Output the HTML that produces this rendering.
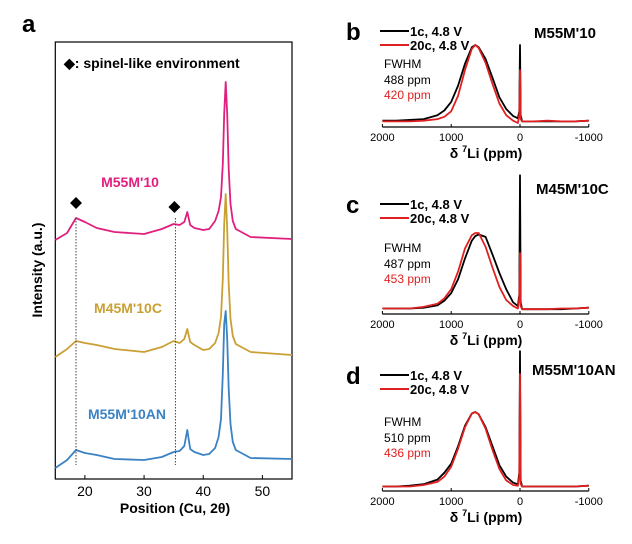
<!DOCTYPE html>
<html><head><meta charset="utf-8"><style>
body{margin:0;background:#fff;width:632px;height:539px;overflow:hidden}
svg{font-family:"Liberation Sans",Arial,sans-serif}
</style></head><body>
<svg id="fig" width="632" height="539" viewBox="0 0 632 539">
<g>
<text x="22" y="32" font-size="24" font-weight="bold">a</text>
<rect x="55.3" y="42" width="236.7" height="437" fill="none" stroke="#000" stroke-width="1.2"/>
<text x="64" y="68" font-size="14" font-weight="bold">◆: spinel-like environment</text>
<text transform="translate(42,270) rotate(-90)" text-anchor="middle" font-size="14" font-weight="bold">Intensity (a.u.)</text>
<text x="175" y="513" text-anchor="middle" font-size="14" font-weight="bold">Position (Cu, 2θ)</text>
<text x="130" y="187" text-anchor="middle" font-size="14" font-weight="bold" fill="#e0207e">M55M'10</text>
<text x="128" y="313" text-anchor="middle" font-size="14" font-weight="bold" fill="#c9a033">M45M'10C</text>
<text x="127" y="419" text-anchor="middle" font-size="14" font-weight="bold" fill="#3a82c4">M55M'10AN</text>
<g id="xrd"></g>
</g>
<g id="nmr"></g>
</svg>
<script>
// XRD data (2θ degrees; intensity a.u. above plot bottom)
const xrdAngles=[15,17,18.5,20,22,25,30,33,35,36,36.8,37.3,37.8,38.5,40,41,42,42.6,43,43.3,43.55,43.8,44.05,44.3,44.6,45,45.5,48,55];
const xrdPink=[239,246,261,257,251,247,245,250,255,254,257,267,254,251,249,250,258,268,282,315,365,397,365,310,275,258,250,242,240];
const xrdGold=[122,130,138,136,134,130,127,132,138,136,140,150,137,134,129,130,136,146,162,200,255,285,250,195,160,143,135,127,124];
const xrdBlue=[11,19,29,26,24,20,19,22,27,28,33,49,30,27,24,25,31,42,60,105,155,168,140,90,55,37,29,21,20];
const xTicks=[20,30,40,50];
const spinelPositions=[18.5,35.3];
const X0=15,X1=55,PL=55.3,PR=292,PB=479;
function xs(d){return PL+(d-X0)/(X1-X0)*(PR-PL);}
function ys(v){return PB-v;}
const NS='http://www.w3.org/2000/svg';
function mk(tag,attrs,parent){const e=document.createElementNS(NS,tag);for(const k in attrs)e.setAttribute(k,attrs[k]);parent.appendChild(e);return e;}
const xrd=document.getElementById('xrd');
[[xrdPink,'#e0207e','xrd-line-m55m10'],[xrdGold,'#c9a033','xrd-line-m45m10c'],[xrdBlue,'#3a82c4','xrd-line-m55m10an']].forEach(s=>{
  const d=xrdAngles.map((a,i)=>(i?'L':'M')+xs(a).toFixed(1)+','+ys(s[0][i]).toFixed(1)).join('');
  const p=mk('path',{d:d,fill:'none',stroke:s[1],'stroke-width':1.8,'stroke-linejoin':'round'},xrd);
  
  
});
spinelPositions.forEach((a,i)=>{
  const l=mk('line',{x1:xs(a),x2:xs(a),y1:218,y2:465,stroke:'#444','stroke-width':1,'stroke-dasharray':'1.5,1.5'},xrd);
  
  
  const y=i?207:203,x=xs(a)-(i?1:0);
  const dm=mk('path',{d:`M${x},${y-6}L${x+6},${y}L${x},${y+6}L${x-6},${y}Z`,fill:'#000'},xrd);
  
  
});
xTicks.forEach(t=>{
  const l=mk('line',{x1:xs(t),x2:xs(t),y1:PB,y2:PB-4,stroke:'#000'},xrd);
  
  
  const tx=mk('text',{x:xs(t),y:PB+17,'text-anchor':'middle','font-size':14},xrd);
  tx.textContent=t;
  
  
});
// NMR data (ppm; relative intensity)
const nmrPpm=[2000,1800,1600,1400,1200,1100,1000,900,800,700,650,600,500,400,300,200,100,30,10,0,-10,-30,-200,-400,-600,-800,-1000];
const bBlack=[0.03,0.03,0.04,0.05,0.1,0.16,0.27,0.48,0.76,0.97,1,0.97,0.82,0.58,0.33,0.18,0.09,0.06,0.15,1.0,0.1,0.02,0.02,0.02,0.02,0.02,0.03];
const bRed=[0.02,0.02,0.02,0.03,0.05,0.08,0.15,0.35,0.68,0.95,1,0.96,0.77,0.5,0.25,0.1,0.03,0.0,0.1,0.68,0.05,0.02,0.02,0.03,0.02,0.02,0.03];
const cBlack=[0.02,0.02,0.02,0.03,0.06,0.12,0.22,0.4,0.67,0.9,0.96,0.98,0.95,0.72,0.48,0.27,0.1,0.05,0.2,1.75,0.1,0.01,0.01,0.01,0.01,0.02,0.03];
const cRed=[0.02,0.02,0.02,0.04,0.08,0.15,0.27,0.5,0.8,0.97,1.0,1.0,0.82,0.55,0.3,0.13,0.05,0.02,0.15,0.74,0.05,0.01,0.01,0.01,0.02,0.02,0.03];
const dBlack=[0.02,0.02,0.03,0.05,0.11,0.2,0.32,0.55,0.82,0.98,1,0.97,0.8,0.55,0.3,0.15,0.07,0.05,0.2,1.8,0.1,0.02,0.02,0.02,0.02,0.02,0.03];
const dRed=[0.02,0.02,0.02,0.04,0.08,0.15,0.28,0.52,0.8,0.98,1,0.97,0.78,0.5,0.25,0.1,0.04,0.03,0.15,1.5,0.05,0.02,0.02,0.02,0.02,0.02,0.03];
const nmrTicks=[2000,1000,0,-1000];
const panels=[
 {id:'b',axisY:127,base:123,h:78,black:bBlack,red:bRed,title:"M55M'10",tx:534,ty:38,ly:31,fw:['488 ppm','420 ppm'],fy:68},
 {id:'c',axisY:314,base:310,h:77,black:cBlack,red:cRed,title:"M45M'10C",tx:536,ty:194,ly:204,fw:['487 ppm','453 ppm'],fy:252},
 {id:'d',axisY:491,base:488,h:76,black:dBlack,red:dRed,title:"M55M'10AN",tx:532,ty:375,ly:375,fw:['510 ppm','436 ppm'],fy:426}
];
function px(p){return 520-p*0.0688;}
const nmr=document.getElementById('nmr');
panels.forEach(P=>{
  const g=mk('g',{},nmr);
  
  
  const lab=mk('text',{x:346,y:P.ly+9,'font-size':24,'font-weight':'bold'},g);lab.textContent=P.id;
  
  
  const ax=mk('line',{x1:px(2000),x2:px(-1000),y1:P.axisY,y2:P.axisY,stroke:'#000','stroke-width':1.2},g);
  
  
  nmrTicks.forEach(t=>{
    const l=mk('line',{x1:px(t),x2:px(t),y1:P.axisY,y2:P.axisY-3,stroke:'#000'},g);
    
    
    const tx=mk('text',{x:px(t),y:P.axisY+14,'text-anchor':'middle','font-size':11},g);tx.textContent=t;
    
    
  });
  const xt=mk('text',{x:486,y:P.axisY+31,'text-anchor':'middle','font-size':14,'font-weight':'bold'},g);
  xt.innerHTML='δ <tspan font-size="9" dy="-6">7</tspan><tspan dy="6">Li (ppm)</tspan>';
  
  
  [[P.black,'#000','black'],[P.red,'#e02020','red']].forEach(s=>{
    const d=nmrPpm.map((p,i)=>(i?'L':'M')+px(p).toFixed(1)+','+(P.base-s[0][i]*P.h).toFixed(1)).join('');
    const pa=mk('path',{d:d,fill:'none',stroke:s[1],'stroke-width':1.8,'stroke-linejoin':'round'},g);
    
    
  });
  const tt=mk('text',{x:P.tx,y:P.ty,'font-size':15,'font-weight':'bold'},g);tt.textContent=P.title;
  
  
  [['#000','1c, 4.8 V',0],['#e02020','20c, 4.8 V',14]].forEach(l=>{
    const ln=mk('line',{x1:380,x2:409,y1:P.ly+l[2],y2:P.ly+l[2],stroke:l[0],'stroke-width':2},g);
    
    
    const t=mk('text',{x:410,y:P.ly+l[2]+5,'font-size':13,'font-weight':'bold'},g);t.textContent=l[1];
    
    
  });
  [['#000','FWHM',0],['#000',P.fw[0],16],['#e02020',P.fw[1],31]].forEach(f=>{
    const t=mk('text',{x:384,y:P.fy+f[2],'font-size':12,fill:f[0]},g);t.textContent=f[1];
    
    
  });
});
</script>
</body></html>
